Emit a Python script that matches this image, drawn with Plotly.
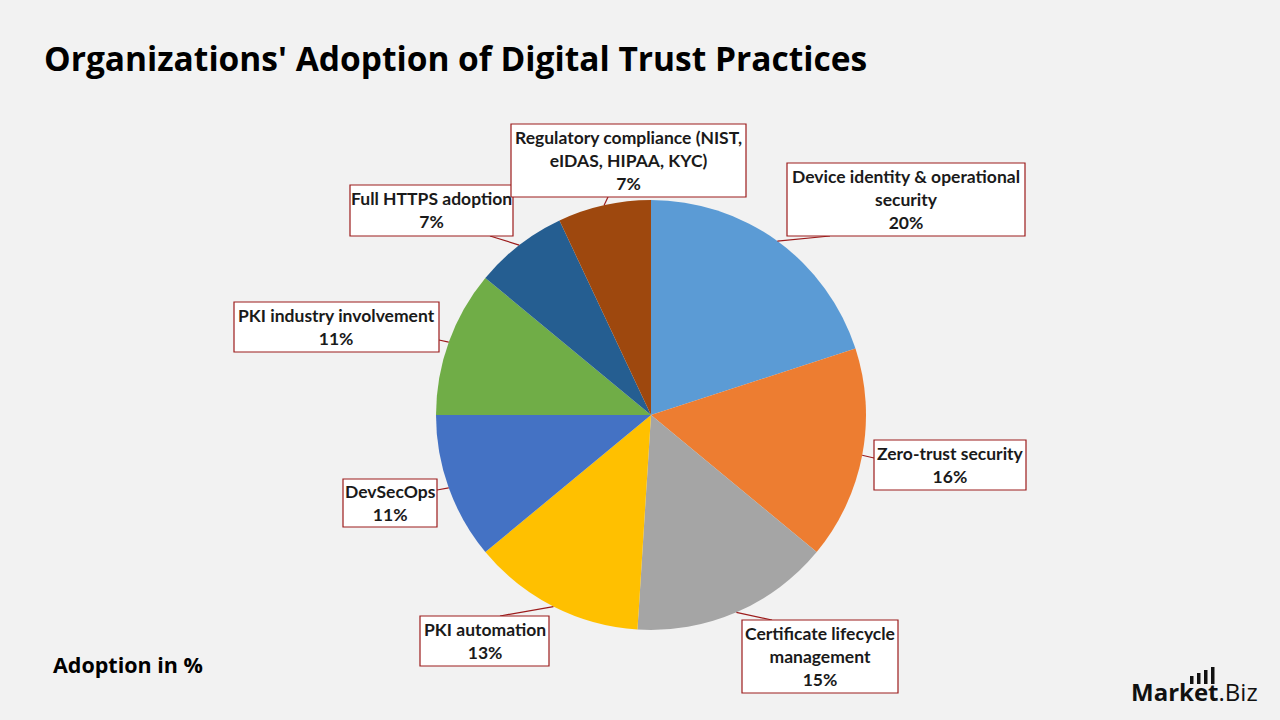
import math
import plotly.graph_objects as go

# ---- data ----
categories = [
    "Device identity & operational security",
    "Zero-trust security",
    "Certificate lifecycle management",
    "PKI automation",
    "DevSecOps",
    "PKI industry involvement",
    "Full HTTPS adoption",
    "Regulatory compliance (NIST, eIDAS, HIPAA, KYC)",
]
adoption = [20, 16, 15, 13, 11, 11, 7, 7]
label_text = [
    "Device identity & operational<br>security",
    "Zero-trust security",
    "Certificate lifecycle<br>management",
    "PKI automation",
    "DevSecOps",
    "PKI industry involvement",
    "Full HTTPS adoption",
    "Regulatory compliance (NIST,<br>eIDAS, HIPAA, KYC)",
]
colors = ["#5B9BD5", "#ED7D31", "#A5A5A5", "#FFC000",
          "#4472C4", "#70AD47", "#255E91", "#9E480E"]

# ---- layout constants (pixels) ----
W, H = 1280, 720
CX, CY, R = 651, 415, 215
BORDER = "#9C1C1C"
LABEL_FONT = "Lato"

# label boxes: (x0, y0, x1, y1) and leader anchor on box
boxes = [
    ((787, 163, 1025, 236), (830, 236)),
    ((874, 440, 1026, 490), (874, 458)),
    ((742, 620, 898, 693), (772, 620)),
    ((420, 616, 549, 666), (500, 616)),
    ((343, 479, 437, 527), (437, 490)),
    ((234, 302, 439, 352), (439, 340)),
    ((350, 185, 513, 236), (490, 236)),
    ((511, 124, 746, 197), (608, 197)),
]


def px(x, y):
    return x / W, 1 - y / H


fig = go.Figure()
fig.add_trace(go.Pie(
    labels=categories,
    values=adoption,
    sort=False,
    direction="clockwise",
    rotation=0,
    marker=dict(colors=colors, line=dict(width=0)),
    textinfo="none",
    hoverinfo="skip",
    showlegend=False,
    domain=dict(x=[(CX - R) / W, (CX + R) / W], y=[1 - (CY + R) / H, 1 - (CY - R) / H]),
))

shapes = []
annotations = []
total = sum(adoption)
cum = 0
for i, v in enumerate(adoption):
    mid = (cum + v / 2) / total * 2 * math.pi
    cum += v
    ex = CX + R * math.sin(mid)
    ey = CY - R * math.cos(mid)
    (x0, y0, x1, y1), (ax, ay) = boxes[i]
    # leader line
    sx, sy = px(ex, ey)
    tx, ty = px(ax, ay)
    shapes.append(dict(type="line", xref="paper", yref="paper",
                       x0=sx, y0=sy, x1=tx, y1=ty,
                       line=dict(color=BORDER, width=1.2)))
    # label box
    bx0, by0 = px(x0, y1)
    bx1, by1 = px(x1, y0)
    shapes.append(dict(type="rect", xref="paper", yref="paper",
                       x0=bx0, y0=by0, x1=bx1, y1=by1,
                       fillcolor="white", line=dict(color=BORDER, width=1.2)))
    cx, cy = px((x0 + x1) / 2, (y0 + y1) / 2)
    annotations.append(dict(
        xref="paper", yref="paper", x=cx, y=cy,
        xanchor="center", yanchor="middle", showarrow=False,
        text=f"<b>{label_text[i]}<br>{v}%</b>",
        align="center",
        font=dict(family=LABEL_FONT, size=17.5, color="#1a1a1a"),
    ))

# title
tx, ty = px(42, 58)
annotations.append(dict(xref="paper", yref="paper", x=tx, y=ty, xanchor="left", yanchor="middle",
                        showarrow=False,
                        text="<b>Organizations' Adoption of Digital Trust Practices</b>",
                        font=dict(family="Open Sans", size=33.5, color="#000000")))
# subtitle bottom left
tx, ty = px(51, 664)
annotations.append(dict(xref="paper", yref="paper", x=tx, y=ty, xanchor="left", yanchor="middle",
                        showarrow=False, text="<b>Adoption in %</b>",
                        font=dict(family="Open Sans", size=21.5, color="#000000")))
# logo
tx, ty = px(1129, 691)
annotations.append(dict(xref="paper", yref="paper", x=tx, y=ty, xanchor="left", yanchor="middle",
                        showarrow=False,
                        text="<b>Market</b>.Biz",
                        font=dict(family="Open Sans", size=24, color="#111111")))
# logo bars
for bx, btop in [(1190, 676), (1197, 673), (1204, 670), (1211, 667)]:
    x0p, y0p = px(bx, 684)
    x1p, y1p = px(bx + 3.5, btop)
    shapes.append(dict(type="rect", xref="paper", yref="paper",
                       x0=x0p, y0=y0p, x1=x1p, y1=y1p,
                       fillcolor="#111111", line=dict(width=0)))

fig.update_layout(
    width=W, height=H,
    margin=dict(l=0, r=0, t=0, b=0),
    paper_bgcolor="#F2F2F2",
    plot_bgcolor="#F2F2F2",
    shapes=shapes,
    annotations=annotations,
)

fig.write_html("out.html")
